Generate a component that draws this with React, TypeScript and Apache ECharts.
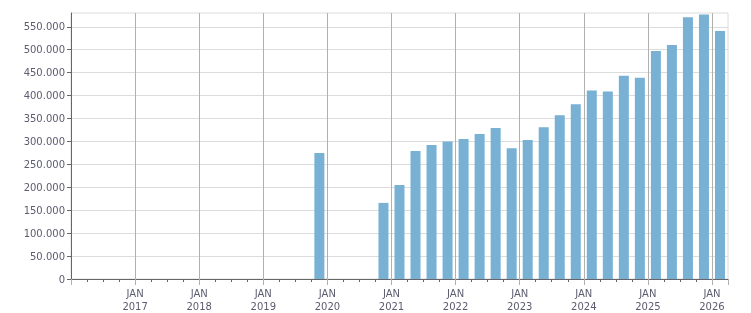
import React, { useEffect, useRef } from "react";
import * as echarts from "echarts";

const quarters = [
  "2019-Q4",
  "2020-Q4",
  "2021-Q1", "2021-Q2", "2021-Q3", "2021-Q4",
  "2022-Q1", "2022-Q2", "2022-Q3", "2022-Q4",
  "2023-Q1", "2023-Q2", "2023-Q3", "2023-Q4",
  "2024-Q1", "2024-Q2", "2024-Q3", "2024-Q4",
  "2025-Q1", "2025-Q2", "2025-Q3", "2025-Q4",
  "2026-Q1",
];

const values = [
  275000,
  166000,
  205000, 279000, 292000, 300000,
  305000, 316000, 329000, 285000,
  303000, 331000, 357000, 381000,
  411000, 409000, 443000, 439000,
  497000, 510000, 571000, 577000,
  541000,
];

const xStartYear = 2016;
const xEndYear = 2026.25;
const yMax = 580000;
const yStep = 50000;

function quarterCenter(q: string): number {
  const [y, qq] = q.split("-Q");
  return Number(y) + (Number(qq) - 1) / 4 + 0.125;
}

function fmt(v: number): string {
  return String(Math.round(v)).replace(/\B(?=(\d{3})+(?!\d))/g, ".");
}

export default function App() {
  const ref = useRef<HTMLDivElement>(null);
  useEffect(() => {
    if (!ref.current) return;
    const chart = echarts.init(ref.current, undefined, { renderer: "svg" });
    const labelColor = "#5c5c70";
    const font = "DejaVu Sans, Verdana, sans-serif";
    chart.setOption({
      animation: false,
      grid: {
        left: 71,
        top: 13,
        right: 23,
        bottom: 32,
        show: true,
        borderColor: "#dcdcdc",
        borderWidth: 1,
        backgroundColor: "transparent",
      },
      xAxis: {
        type: "value",
        min: xStartYear,
        max: xEndYear,
        interval: 1,
        axisLine: { show: true, lineStyle: { color: "#666666", width: 1 } },
        axisTick: { show: true, length: 6, lineStyle: { color: "#b0b0b0" } },
        minorTick: { show: true, splitNumber: 4, length: 3, lineStyle: { color: "#666666" } },
        splitLine: {
          show: true,
          showMinLine: false,
          showMaxLine: false,
          lineStyle: { color: "#b0b0b0", width: 1 },
        },
        axisLabel: {
          show: true,
          showMinLabel: false,
          showMaxLabel: false,
          margin: 8,
          color: labelColor,
          fontFamily: font,
          fontSize: 10,
          lineHeight: 13,
          formatter: (v: number) => (Number.isInteger(v) ? `JAN\n${v}` : ""),
        },
      },
      yAxis: {
        type: "value",
        min: 0,
        max: yMax,
        interval: yStep,
        axisLine: { show: true, lineStyle: { color: "#666666", width: 1 } },
        axisTick: { show: true, length: 4, lineStyle: { color: "#666666" } },
        splitLine: {
          show: true,
          showMinLine: false,
          showMaxLine: false,
          lineStyle: { color: "#dcdcdc", width: 1 },
        },
        axisLabel: {
          showMaxLabel: false,
          margin: 6,
          color: labelColor,
          fontFamily: font,
          fontSize: 10,
          formatter: (v: number) => fmt(v),
        },
      },
      series: [
        {
          type: "bar",
          barWidth: 10,
          itemStyle: { color: "#78b1d3" },
          data: quarters.map((q, i) => [quarterCenter(q), values[i]]),
        },
      ],
    });
    return () => chart.dispose();
  }, []);
  return (
    <div
      ref={ref}
      style={{ position: "fixed", left: 0, top: 0, width: 751, height: 313 }}
    />
  );
}
